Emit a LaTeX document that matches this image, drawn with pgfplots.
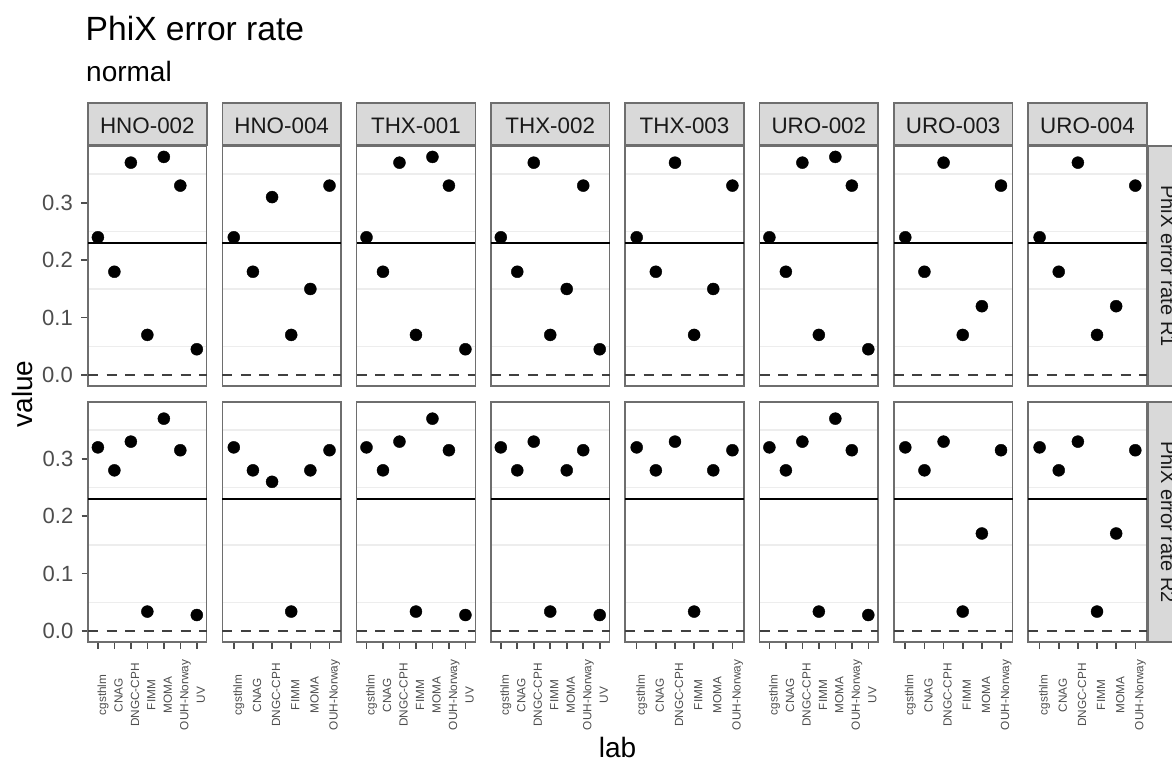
\documentclass[border=0pt]{standalone}
\usepackage{pgfplots}
\pgfplotsset{compat=1.18}
\usepackage{fontspec}
\setmainfont{Liberation Sans}
\definecolor{stripfill}{HTML}{D9D9D9}
\definecolor{bordercol}{HTML}{6E6E6E}
\definecolor{gridcol}{HTML}{EDEDED}
\definecolor{tickcol}{HTML}{4D4D4D}
\definecolor{striptext}{HTML}{1A1A1A}
\newcommand{\ftitle}{\fontsize{33.6}{40}\selectfont}
\newcommand{\fsub}{\fontsize{28}{32}\selectfont}
\newcommand{\fstrip}{\fontsize{22.4}{26}\selectfont}
\newcommand{\frstrip}{\fontsize{20}{24}\selectfont}
\newcommand{\ftick}{\fontsize{22}{26}\selectfont}
\newcommand{\fxlab}{\fontsize{11.8}{13}\selectfont}
\pgfplotsset{
  panel/.style={anchor=south west, scale only axis, width=118.7pt, height=240pt,
    xmin=0.4, ymin=-0.019, ymax=0.399, clip=false,
    axis line style={draw=bordercol, line width=1.6pt},
    xtick=\empty,
    ytick={0,0.1,0.2,0.3}, yticklabels={,,,,},
    ytick style={draw=none},
    minor ytick={0.05,0.15,0.25,0.35}, yminorgrids=true,
    minor grid style={draw=gridcol, line width=1.5pt},
    minor tick length=0pt,
    tick align=outside, tick pos=left,
    major tick length=7pt,
  },
  leftp/.style={yticklabels={0.0,0.1,0.2,0.3},
    ytick style={draw=tickcol, line width=1.6pt},
    yticklabel style={font=\ftick, text=tickcol, inner sep=0pt, anchor=east, xshift=-8pt}},
  botp/.style={xtick={1,...,#1}, xticklabels={,,,,,,,,}, xtick style={draw=tickcol, line width=1.6pt}, major tick length=6.5pt},
}
% #1 left px, #2 bottom px, #3 xmax, #4 extra options, #5 data
\newcommand{\panel}[5]{%
  \begin{axis}[panel, at={(#1pt,-#2pt)}, xmax=#3, #4]
    \addplot[black!75, line width=2.4pt, dash pattern=on 10pt off 8.5pt] coordinates {(0.4,0) (#3,0)};
    \addplot[black, line width=1.8pt] coordinates {(0.4,0.23) (#3,0.23)};
    \addplot[only marks, mark=*, mark size=6pt, black] coordinates {#5};
  \end{axis}}
\newcommand{\xlabs}[2]{%
  \foreach \nm [count=\i] in {cgsthlm,CNAG,DNGC-CPH,FIMM,MOMA,OUH-Norway,UV}{%
    \ifnum\i>#2\relax\else
      \pgfmathsetmacro{\xx}{#1+(\i-0.4)*118.7/(#2+0.2)+5.5}
      \node[rotate=90, font=\fxlab, text=tickcol, anchor=mid, inner sep=0pt] at (\xx pt,-695pt) {\nm};
    \fi
  }}
\begin{document}
\begin{tikzpicture}
\useasboundingbox (0,0) rectangle (1172pt,-761pt);
\clip (0,0) rectangle (1172pt,-761pt);
\fill[white] (0,0) rectangle (1172pt,-761pt);
% top strips
\foreach \L/\T in {88/HNO-002, 222.3/HNO-004, 356.6/THX-001, 490.9/THX-002, 625.2/THX-003, 759.5/URO-002, 893.8/URO-003, 1028.1/URO-004}{
  \draw[fill=stripfill, draw=bordercol, line width=1.6pt] (\L pt,-103pt) rectangle ++(118.7pt,-42pt);
  \node[font=\fstrip, text=striptext, anchor=base, inner sep=0pt] at ({\L pt+59.35pt},-133pt) {\T};
}
% right strips
\draw[fill=stripfill, draw=bordercol, line width=1.6pt] (1148.3pt,-146pt) rectangle (1200pt,-386pt);
\draw[fill=stripfill, draw=bordercol, line width=1.6pt] (1148.3pt,-402pt) rectangle (1200pt,-642pt);
\node[font=\frstrip, text=striptext, rotate=-90, anchor=base, inner sep=0pt] at (1161pt,-266pt) {PhiX error rate R1};
\node[font=\frstrip, text=striptext, rotate=-90, anchor=base, inner sep=0pt] at (1161pt,-522pt) {PhiX error rate R2};
% row 1: PhiX error rate R1
\panel{88}{386}{7.6}{leftp}{(1,0.24)(2,0.18)(3,0.37)(4,0.07)(5,0.38)(6,0.33)(7,0.045)}
\panel{222.3}{386}{6.6}{}{(1,0.24)(2,0.18)(3,0.31)(4,0.07)(5,0.15)(6,0.33)}
\panel{356.6}{386}{7.6}{}{(1,0.24)(2,0.18)(3,0.37)(4,0.07)(5,0.38)(6,0.33)(7,0.045)}
\panel{490.9}{386}{7.6}{}{(1,0.24)(2,0.18)(3,0.37)(4,0.07)(5,0.15)(6,0.33)(7,0.045)}
\panel{625.2}{386}{6.6}{}{(1,0.24)(2,0.18)(3,0.37)(4,0.07)(5,0.15)(6,0.33)}
\panel{759.5}{386}{7.6}{}{(1,0.24)(2,0.18)(3,0.37)(4,0.07)(5,0.38)(6,0.33)(7,0.045)}
\panel{893.8}{386}{6.6}{}{(1,0.24)(2,0.18)(3,0.37)(4,0.07)(5,0.12)(6,0.33)}
\panel{1028.1}{386}{6.6}{}{(1,0.24)(2,0.18)(3,0.37)(4,0.07)(5,0.12)(6,0.33)}
% row 2: PhiX error rate R2
\panel{88}{642}{7.6}{leftp,botp=7}{(1,0.32)(2,0.28)(3,0.33)(4,0.034)(5,0.37)(6,0.315)(7,0.028)}
\panel{222.3}{642}{6.6}{botp=6}{(1,0.32)(2,0.28)(3,0.26)(4,0.034)(5,0.28)(6,0.315)}
\panel{356.6}{642}{7.6}{botp=7}{(1,0.32)(2,0.28)(3,0.33)(4,0.034)(5,0.37)(6,0.315)(7,0.028)}
\panel{490.9}{642}{7.6}{botp=7}{(1,0.32)(2,0.28)(3,0.33)(4,0.034)(5,0.28)(6,0.315)(7,0.028)}
\panel{625.2}{642}{6.6}{botp=6}{(1,0.32)(2,0.28)(3,0.33)(4,0.034)(5,0.28)(6,0.315)}
\panel{759.5}{642}{7.6}{botp=7}{(1,0.32)(2,0.28)(3,0.33)(4,0.034)(5,0.37)(6,0.315)(7,0.028)}
\panel{893.8}{642}{6.6}{botp=6}{(1,0.32)(2,0.28)(3,0.33)(4,0.034)(5,0.17)(6,0.315)}
\panel{1028.1}{642}{6.6}{botp=6}{(1,0.32)(2,0.28)(3,0.33)(4,0.034)(5,0.17)(6,0.315)}
% x tick labels
\xlabs{88}{7}
\xlabs{222.3}{6}
\xlabs{356.6}{7}
\xlabs{490.9}{7}
\xlabs{625.2}{6}
\xlabs{759.5}{7}
\xlabs{893.8}{6}
\xlabs{1028.1}{6}
% titles
\node[font=\ftitle, anchor=base west, inner sep=0pt] at (85.5pt,-40.7pt) {PhiX error rate};
\node[font=\fsub, anchor=base west, inner sep=0pt] at (86pt,-81.7pt) {normal};
\node[font=\fsub, anchor=base, rotate=90, inner sep=0pt] at (32pt,-394pt) {value};
\node[font=\fsub, anchor=base, inner sep=0pt] at (617.5pt,-757pt) {lab};
\end{tikzpicture}
\end{document}
